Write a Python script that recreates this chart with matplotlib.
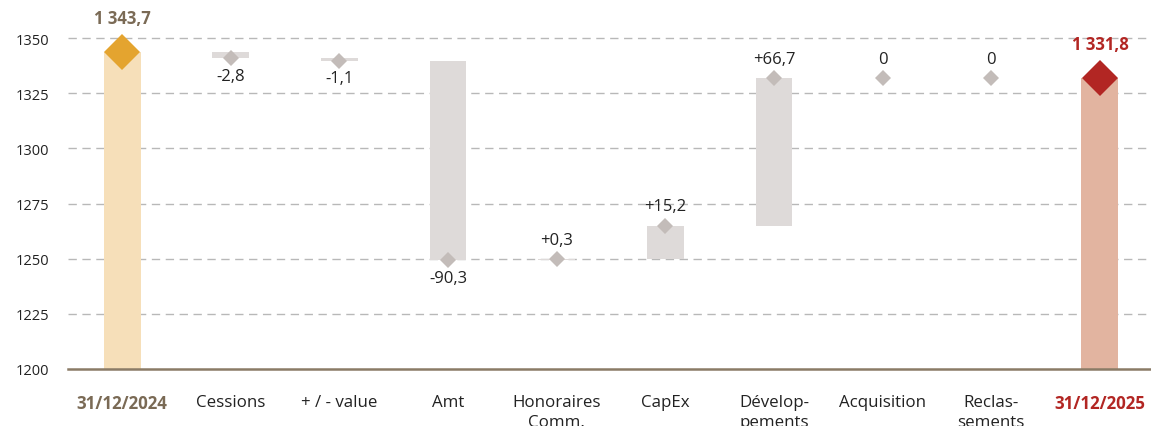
import numpy as np
import matplotlib
matplotlib.use("Agg")
import matplotlib.pyplot as plt

plt.rcParams['font.family'] = ['Open Sans', 'DejaVu Sans']

# waterfall data (M EUR)
categories = ["31/12/2024", "Cessions", "+ / - value", "Amt", "Honoraires\nComm.",
              "CapEx", "Dévelop-\npements", "Acquisition", "Reclas-\nsements", "31/12/2025"]
start_value = 1343.7
steps = [-2.8, -1.1, -90.3, 0.3, 15.2, 66.7, 0.0, 0.0]
end_value = 1331.8
yticks = [1200, 1225, 1250, 1275, 1300, 1325, 1350]

START_BAR = "#F6DFB9"
START_MARK = "#E4A42F"
END_BAR = "#E2B4A0"
END_MARK = "#B22623"
STEP_BAR = "#DEDAD9"
STEP_MARK = "#C3BCB9"
BROWN = "#7A6A55"
TXT = "#222222"


def fr(v, sign=False):
    if sign:
        if v == 0:
            return "0"
        s = f"{v:+.1f}"
    else:
        s = f"{v:,.1f}".replace(",", " ")
    return s.replace(".", ",")


fig = plt.figure(figsize=(11.51, 4.27), dpi=100)
ax = fig.add_axes([67.7 / 1151, 1 - 370 / 427, (1151 - 67.7) / 1151, (370 - 17) / 427])

x = np.arange(len(categories))
bw = 0.34

levels = start_value + np.cumsum(steps)
prev = np.concatenate([[start_value], levels[:-1]])

# totals
ax.bar(x[0], start_value - 1200, bottom=1200, width=bw, color=START_BAR, zorder=2)
ax.bar(x[-1], end_value - 1200, bottom=1200, width=bw, color=END_BAR, zorder=2)
ax.plot(x[0], start_value, marker="D", ms=18, color=START_MARK, mew=0, zorder=4)
ax.plot(x[-1], end_value, marker="D", ms=18, color=END_MARK, mew=0, zorder=4)
ax.annotate(fr(start_value), (x[0], start_value), xytext=(0, 18), textcoords="offset points",
            ha="center", va="bottom", fontsize=12, fontweight="bold", color=BROWN)
ax.annotate(fr(end_value), (x[-1], end_value), xytext=(0, 18), textcoords="offset points",
            ha="center", va="bottom", fontsize=12, fontweight="bold", color=END_MARK)

# intermediate steps
sx = x[1:-1]
lo = np.minimum(prev, levels)
ax.bar(sx, np.abs(np.array(steps)), bottom=lo, width=bw, color=STEP_BAR, zorder=2)
ax.plot(sx, levels, ls="none", marker="D", ms=8, color=STEP_MARK, mew=0, zorder=4)
for xi, lv, st in zip(sx, levels, steps):
    if st < 0:
        ax.annotate(fr(st, True), (xi, lv), xytext=(0, -7), textcoords="offset points",
                    ha="center", va="top", fontsize=12, color=TXT)
    else:
        ax.annotate(fr(st, True), (xi, lv), xytext=(0, 8), textcoords="offset points",
                    ha="center", va="bottom", fontsize=12, color=TXT)

ax.set_xlim(-0.5, 9.5 - 3.3 / 108.67)
ax.set_ylim(1200, 1360)
ax.set_yticks(yticks)
ax.set_yticklabels([str(t) for t in yticks], fontsize=10.5, color=TXT)
ax.set_xticks(x)
ax.set_xticklabels(categories, fontsize=12.2, color=TXT, linespacing=1.3, va="top")
ax.get_xticklabels()[0].set_fontweight("bold")
ax.get_xticklabels()[0].set_color(BROWN)
ax.get_xticklabels()[-1].set_fontweight("bold")
ax.get_xticklabels()[-1].set_color(END_MARK)
ax.tick_params(axis="y", length=0, pad=13)
ax.tick_params(axis="x", length=0, pad=18)

for t in yticks[1:]:
    ax.axhline(t, color="#B8B8B8", lw=1.0, ls=(0, (6, 4)), zorder=1)

for s in ["top", "right", "left"]:
    ax.spines[s].set_visible(False)
ax.spines["bottom"].set_color("#8A7B66")
ax.spines["bottom"].set_linewidth(1.8)
ax.spines["bottom"].set_zorder(5)

fig.savefig("out.png", dpi=100)
